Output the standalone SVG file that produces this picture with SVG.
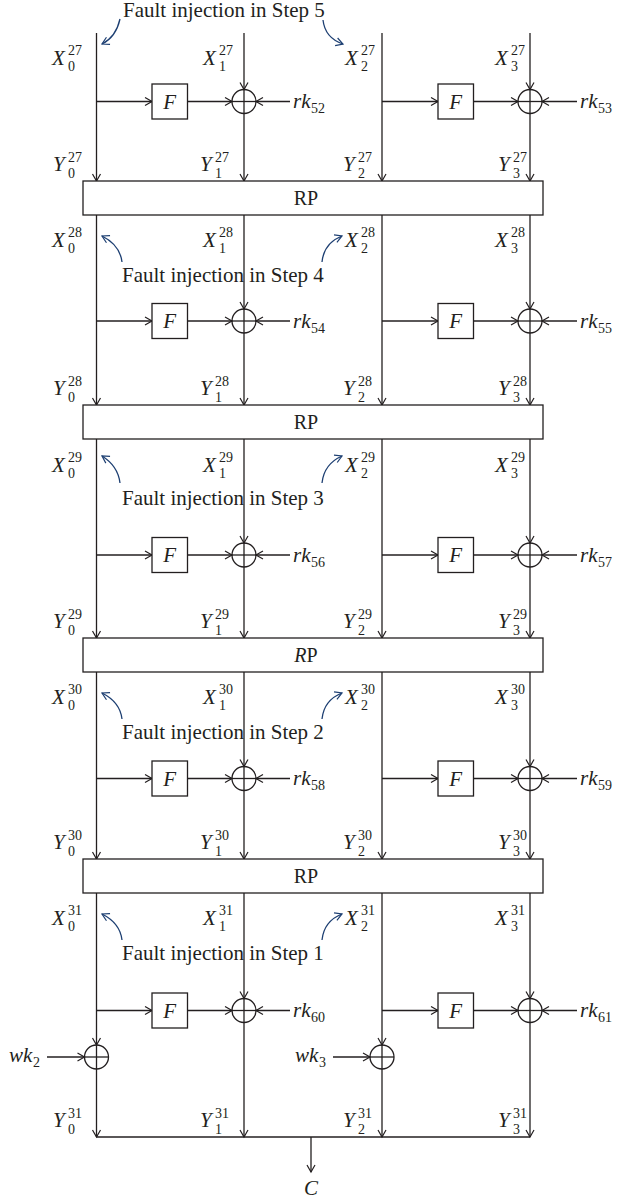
<svg xmlns="http://www.w3.org/2000/svg" width="619" height="1200" viewBox="0 0 619 1200">
<style>
.ln{stroke:#231f20;stroke-width:1.3;fill:none}
.ar{stroke:#231f20;stroke-width:1.3;fill:none;marker-end:url(#a)}
.bl{stroke:#1d3f72;stroke-width:1.3;fill:none;marker-end:url(#b)}
.bx{fill:#fff;stroke:#231f20;stroke-width:1.3}
.xc{fill:none;stroke:#231f20;stroke-width:1.3}
text{font-family:"Liberation Serif","Times New Roman",serif;fill:#231f20;font-size:21px}
.it{font-style:italic}
.s{font-size:14px;font-style:normal}
.rp{font-size:20px;text-anchor:middle}
.mid{text-anchor:middle}
</style>
<defs>
<marker id="a" markerUnits="userSpaceOnUse" markerWidth="12" markerHeight="12" refX="8" refY="5" orient="auto"><path d="M1,1 L8,5 L1,9" fill="none" stroke="#231f20" stroke-width="1.2"/></marker>
<marker id="b" markerUnits="userSpaceOnUse" markerWidth="12" markerHeight="12" refX="8" refY="5" orient="auto"><path d="M1,1 L8,5 L1,9" fill="none" stroke="#1d3f72" stroke-width="1.2"/></marker>
</defs>

<g id="connectors">
<!-- round 1 -->
<path class="ar" d="M96.5,33 V181"/>
<path class="ar" d="M244,33 V89.5"/><path class="ar" d="M244,89.5 V181"/>
<path class="ar" d="M382,33 V181"/>
<path class="ar" d="M530,33 V89.5"/><path class="ar" d="M530,89.5 V181"/>
<path class="ar" d="M96.5,101.5 H152"/><path class="ar" d="M187.5,101.5 H232"/><path class="ln" d="M232,101.5 H256"/><path class="ar" d="M290,101.5 H256"/>
<path class="ar" d="M382,101.5 H438"/><path class="ar" d="M473.5,101.5 H518"/><path class="ln" d="M518,101.5 H542"/><path class="ar" d="M577,101.5 H542"/>
<!-- round 2 -->
<path class="ar" d="M96.5,215 V405"/>
<path class="ar" d="M244,215 V309"/><path class="ar" d="M244,309 V405"/>
<path class="ar" d="M382,215 V405"/>
<path class="ar" d="M530,215 V309"/><path class="ar" d="M530,309 V405"/>
<path class="ar" d="M96.5,321 H152"/><path class="ar" d="M187.5,321 H232"/><path class="ln" d="M232,321 H256"/><path class="ar" d="M290,321 H256"/>
<path class="ar" d="M382,321 H438"/><path class="ar" d="M473.5,321 H518"/><path class="ln" d="M518,321 H542"/><path class="ar" d="M577,321 H542"/>
<!-- round 3 -->
<path class="ar" d="M96.5,439 V638"/>
<path class="ar" d="M244,439 V543"/><path class="ar" d="M244,543 V638"/>
<path class="ar" d="M382,439 V638"/>
<path class="ar" d="M530,439 V543"/><path class="ar" d="M530,543 V638"/>
<path class="ar" d="M96.5,555 H152"/><path class="ar" d="M187.5,555 H232"/><path class="ln" d="M232,555 H256"/><path class="ar" d="M290,555 H256"/>
<path class="ar" d="M382,555 H438"/><path class="ar" d="M473.5,555 H518"/><path class="ln" d="M518,555 H542"/><path class="ar" d="M577,555 H542"/>
<!-- round 4 -->
<path class="ar" d="M96.5,672 V859"/>
<path class="ar" d="M244,672 V766.5"/><path class="ar" d="M244,766.5 V859"/>
<path class="ar" d="M382,672 V859"/>
<path class="ar" d="M530,672 V766.5"/><path class="ar" d="M530,766.5 V859"/>
<path class="ar" d="M96.5,778.5 H152"/><path class="ar" d="M187.5,778.5 H232"/><path class="ln" d="M232,778.5 H256"/><path class="ar" d="M290,778.5 H256"/>
<path class="ar" d="M382,778.5 H438"/><path class="ar" d="M473.5,778.5 H518"/><path class="ln" d="M518,778.5 H542"/><path class="ar" d="M577,778.5 H542"/>
<!-- round 5 -->
<path class="ar" d="M96.5,893 V1045"/><path class="ar" d="M96.5,1045 V1137"/>
<path class="ar" d="M244,893 V998.5"/><path class="ar" d="M244,998.5 V1137"/>
<path class="ar" d="M382,893 V1045"/><path class="ar" d="M382,1045 V1137"/>
<path class="ar" d="M530,893 V998.5"/><path class="ar" d="M530,998.5 V1137"/>
<path class="ar" d="M96.5,1010.5 H152"/><path class="ar" d="M187.5,1010.5 H232"/><path class="ln" d="M232,1010.5 H256"/><path class="ar" d="M290,1010.5 H256"/>
<path class="ar" d="M382,1010.5 H438"/><path class="ar" d="M473.5,1010.5 H518"/><path class="ln" d="M518,1010.5 H542"/><path class="ar" d="M577,1010.5 H542"/>
<path class="ar" d="M47,1057 H84.5"/><path class="ln" d="M84.5,1057 H108.5"/>
<path class="ar" d="M333,1057 H370"/><path class="ln" d="M370,1057 H394"/>
<path class="ln" d="M96.5,1137 H530"/>
<path class="ar" d="M311,1137 V1172"/>
<!-- fault injection pointers -->
<path class="bl" d="M120,19 Q116,37 102,44"/>
<path class="bl" d="M323,20 Q325,38 343,44"/>
<path class="bl" d="M122,262 Q120,245 102,236"/>
<path class="bl" d="M322,262 Q324,243 342,236"/>
<path class="bl" d="M120,483 Q118,466 102,456"/>
<path class="bl" d="M322,483 Q324,464 342,456"/>
<path class="bl" d="M122,719 Q120,702 102,693"/>
<path class="bl" d="M322,719 Q324,700 342,693"/>
<path class="bl" d="M122,940 Q120,923 102,914"/>
<path class="bl" d="M322,940 Q324,921 342,914"/>
</g>

<g id="rp1"><rect class="bx" x="83" y="181" width="460" height="34"/><text class="rp" x="306" y="205">RP</text></g>
<g id="rp2"><rect class="bx" x="83" y="405" width="460" height="34"/><text class="rp" x="306" y="429">RP</text></g>
<g id="rp3"><rect class="bx" x="83" y="638" width="460" height="34"/><text class="rp" x="306" y="662"><tspan class="it">R</tspan>P</text></g>
<g id="rp4"><rect class="bx" x="83" y="859" width="460" height="34"/><text class="rp" x="306" y="883">RP</text></g>

<g id="f1a"><rect class="bx" x="152" y="84" width="35.5" height="35"/><text class="it mid" x="169.75" y="108.5">F</text></g>
<g id="f1b"><rect class="bx" x="438" y="84" width="35.5" height="35"/><text class="it mid" x="455.75" y="108.5">F</text></g>
<g id="f2a"><rect class="bx" x="152" y="303.5" width="35.5" height="35"/><text class="it mid" x="169.75" y="328">F</text></g>
<g id="f2b"><rect class="bx" x="438" y="303.5" width="35.5" height="35"/><text class="it mid" x="455.75" y="328">F</text></g>
<g id="f3a"><rect class="bx" x="152" y="537.5" width="35.5" height="35"/><text class="it mid" x="169.75" y="562">F</text></g>
<g id="f3b"><rect class="bx" x="438" y="537.5" width="35.5" height="35"/><text class="it mid" x="455.75" y="562">F</text></g>
<g id="f4a"><rect class="bx" x="152" y="761" width="35.5" height="35"/><text class="it mid" x="169.75" y="785.5">F</text></g>
<g id="f4b"><rect class="bx" x="438" y="761" width="35.5" height="35"/><text class="it mid" x="455.75" y="785.5">F</text></g>
<g id="f5a"><rect class="bx" x="152" y="993" width="35.5" height="35"/><text class="it mid" x="169.75" y="1017.5">F</text></g>
<g id="f5b"><rect class="bx" x="438" y="993" width="35.5" height="35"/><text class="it mid" x="455.75" y="1017.5">F</text></g>

<g id="xor1a"><circle class="xc" cx="244" cy="101.5" r="12"/></g>
<g id="xor1b"><circle class="xc" cx="530" cy="101.5" r="12"/></g>
<g id="xor2a"><circle class="xc" cx="244" cy="321" r="12"/></g>
<g id="xor2b"><circle class="xc" cx="530" cy="321" r="12"/></g>
<g id="xor3a"><circle class="xc" cx="244" cy="555" r="12"/></g>
<g id="xor3b"><circle class="xc" cx="530" cy="555" r="12"/></g>
<g id="xor4a"><circle class="xc" cx="244" cy="778.5" r="12"/></g>
<g id="xor4b"><circle class="xc" cx="530" cy="778.5" r="12"/></g>
<g id="xor5a"><circle class="xc" cx="244" cy="1010.5" r="12"/></g>
<g id="xor5b"><circle class="xc" cx="530" cy="1010.5" r="12"/></g>
<g id="xorw2"><circle class="xc" cx="96.5" cy="1057" r="12"/></g>
<g id="xorw3"><circle class="xc" cx="382" cy="1057" r="12"/></g>

<g id="keys">
<text x="293" y="108"><tspan class="it">rk</tspan><tspan class="s" x="311" y="113">52</tspan></text>
<text x="580" y="108"><tspan class="it">rk</tspan><tspan class="s" x="598" y="113">53</tspan></text>
<text x="293" y="327.5"><tspan class="it">rk</tspan><tspan class="s" x="311" y="332.5">54</tspan></text>
<text x="580" y="327.5"><tspan class="it">rk</tspan><tspan class="s" x="598" y="332.5">55</tspan></text>
<text x="293" y="561.5"><tspan class="it">rk</tspan><tspan class="s" x="311" y="566.5">56</tspan></text>
<text x="580" y="561.5"><tspan class="it">rk</tspan><tspan class="s" x="598" y="566.5">57</tspan></text>
<text x="293" y="785"><tspan class="it">rk</tspan><tspan class="s" x="311" y="790">58</tspan></text>
<text x="580" y="785"><tspan class="it">rk</tspan><tspan class="s" x="598" y="790">59</tspan></text>
<text x="293" y="1017"><tspan class="it">rk</tspan><tspan class="s" x="311" y="1022">60</tspan></text>
<text x="580" y="1017"><tspan class="it">rk</tspan><tspan class="s" x="598" y="1022">61</tspan></text>
<text x="9" y="1062"><tspan class="it">wk</tspan><tspan class="s" x="33" y="1067">2</tspan></text>
<text x="295" y="1062"><tspan class="it">wk</tspan><tspan class="s" x="319" y="1067">3</tspan></text>
<text class="it mid" x="311" y="1195">C</text>
</g>

<g id="faults">
<text x="123" y="17">Fault injection in Step 5</text>
<text x="122" y="282">Fault injection in Step 4</text>
<text x="122" y="505">Fault injection in Step 3</text>
<text x="122" y="739">Fault injection in Step 2</text>
<text x="122" y="960">Fault injection in Step 1</text>
</g>

<g id="labels-r27">
<text x="52" y="65"><tspan class="it">X</tspan><tspan class="s" x="68" y="55">27</tspan><tspan class="s" x="68" y="71">0</tspan></text>
<text x="203" y="65"><tspan class="it">X</tspan><tspan class="s" x="219" y="55">27</tspan><tspan class="s" x="219" y="71">1</tspan></text>
<text x="345" y="65"><tspan class="it">X</tspan><tspan class="s" x="361" y="55">27</tspan><tspan class="s" x="361" y="71">2</tspan></text>
<text x="495" y="65"><tspan class="it">X</tspan><tspan class="s" x="511" y="55">27</tspan><tspan class="s" x="511" y="71">3</tspan></text>
<text x="53" y="171"><tspan class="it">Y</tspan><tspan class="s" x="68" y="162">27</tspan><tspan class="s" x="68" y="178">0</tspan></text>
<text x="200" y="171"><tspan class="it">Y</tspan><tspan class="s" x="215" y="162">27</tspan><tspan class="s" x="215" y="178">1</tspan></text>
<text x="343" y="171"><tspan class="it">Y</tspan><tspan class="s" x="358" y="162">27</tspan><tspan class="s" x="358" y="178">2</tspan></text>
<text x="498" y="171"><tspan class="it">Y</tspan><tspan class="s" x="513" y="162">27</tspan><tspan class="s" x="513" y="178">3</tspan></text>
</g>
<g id="labels-r28">
<text x="52" y="247"><tspan class="it">X</tspan><tspan class="s" x="68" y="237">28</tspan><tspan class="s" x="68" y="253">0</tspan></text>
<text x="203" y="247"><tspan class="it">X</tspan><tspan class="s" x="219" y="237">28</tspan><tspan class="s" x="219" y="253">1</tspan></text>
<text x="345" y="247"><tspan class="it">X</tspan><tspan class="s" x="361" y="237">28</tspan><tspan class="s" x="361" y="253">2</tspan></text>
<text x="495" y="247"><tspan class="it">X</tspan><tspan class="s" x="511" y="237">28</tspan><tspan class="s" x="511" y="253">3</tspan></text>
<text x="53" y="395"><tspan class="it">Y</tspan><tspan class="s" x="68" y="386">28</tspan><tspan class="s" x="68" y="402">0</tspan></text>
<text x="200" y="395"><tspan class="it">Y</tspan><tspan class="s" x="215" y="386">28</tspan><tspan class="s" x="215" y="402">1</tspan></text>
<text x="343" y="395"><tspan class="it">Y</tspan><tspan class="s" x="358" y="386">28</tspan><tspan class="s" x="358" y="402">2</tspan></text>
<text x="498" y="395"><tspan class="it">Y</tspan><tspan class="s" x="513" y="386">28</tspan><tspan class="s" x="513" y="402">3</tspan></text>
</g>
<g id="labels-r29">
<text x="52" y="472"><tspan class="it">X</tspan><tspan class="s" x="68" y="462">29</tspan><tspan class="s" x="68" y="478">0</tspan></text>
<text x="203" y="472"><tspan class="it">X</tspan><tspan class="s" x="219" y="462">29</tspan><tspan class="s" x="219" y="478">1</tspan></text>
<text x="345" y="472"><tspan class="it">X</tspan><tspan class="s" x="361" y="462">29</tspan><tspan class="s" x="361" y="478">2</tspan></text>
<text x="495" y="472"><tspan class="it">X</tspan><tspan class="s" x="511" y="462">29</tspan><tspan class="s" x="511" y="478">3</tspan></text>
<text x="53" y="628"><tspan class="it">Y</tspan><tspan class="s" x="68" y="619">29</tspan><tspan class="s" x="68" y="635">0</tspan></text>
<text x="200" y="628"><tspan class="it">Y</tspan><tspan class="s" x="215" y="619">29</tspan><tspan class="s" x="215" y="635">1</tspan></text>
<text x="343" y="628"><tspan class="it">Y</tspan><tspan class="s" x="358" y="619">29</tspan><tspan class="s" x="358" y="635">2</tspan></text>
<text x="498" y="628"><tspan class="it">Y</tspan><tspan class="s" x="513" y="619">29</tspan><tspan class="s" x="513" y="635">3</tspan></text>
</g>
<g id="labels-r30">
<text x="52" y="704"><tspan class="it">X</tspan><tspan class="s" x="68" y="694">30</tspan><tspan class="s" x="68" y="710">0</tspan></text>
<text x="203" y="704"><tspan class="it">X</tspan><tspan class="s" x="219" y="694">30</tspan><tspan class="s" x="219" y="710">1</tspan></text>
<text x="345" y="704"><tspan class="it">X</tspan><tspan class="s" x="361" y="694">30</tspan><tspan class="s" x="361" y="710">2</tspan></text>
<text x="495" y="704"><tspan class="it">X</tspan><tspan class="s" x="511" y="694">30</tspan><tspan class="s" x="511" y="710">3</tspan></text>
<text x="53" y="849"><tspan class="it">Y</tspan><tspan class="s" x="68" y="840">30</tspan><tspan class="s" x="68" y="856">0</tspan></text>
<text x="200" y="849"><tspan class="it">Y</tspan><tspan class="s" x="215" y="840">30</tspan><tspan class="s" x="215" y="856">1</tspan></text>
<text x="343" y="849"><tspan class="it">Y</tspan><tspan class="s" x="358" y="840">30</tspan><tspan class="s" x="358" y="856">2</tspan></text>
<text x="498" y="849"><tspan class="it">Y</tspan><tspan class="s" x="513" y="840">30</tspan><tspan class="s" x="513" y="856">3</tspan></text>
</g>
<g id="labels-r31">
<text x="52" y="925"><tspan class="it">X</tspan><tspan class="s" x="68" y="915">31</tspan><tspan class="s" x="68" y="931">0</tspan></text>
<text x="203" y="925"><tspan class="it">X</tspan><tspan class="s" x="219" y="915">31</tspan><tspan class="s" x="219" y="931">1</tspan></text>
<text x="345" y="925"><tspan class="it">X</tspan><tspan class="s" x="361" y="915">31</tspan><tspan class="s" x="361" y="931">2</tspan></text>
<text x="495" y="925"><tspan class="it">X</tspan><tspan class="s" x="511" y="915">31</tspan><tspan class="s" x="511" y="931">3</tspan></text>
<text x="53" y="1127"><tspan class="it">Y</tspan><tspan class="s" x="68" y="1118">31</tspan><tspan class="s" x="68" y="1134">0</tspan></text>
<text x="200" y="1127"><tspan class="it">Y</tspan><tspan class="s" x="215" y="1118">31</tspan><tspan class="s" x="215" y="1134">1</tspan></text>
<text x="343" y="1127"><tspan class="it">Y</tspan><tspan class="s" x="358" y="1118">31</tspan><tspan class="s" x="358" y="1134">2</tspan></text>
<text x="498" y="1127"><tspan class="it">Y</tspan><tspan class="s" x="513" y="1118">31</tspan><tspan class="s" x="513" y="1134">3</tspan></text>
</g>
</svg>
